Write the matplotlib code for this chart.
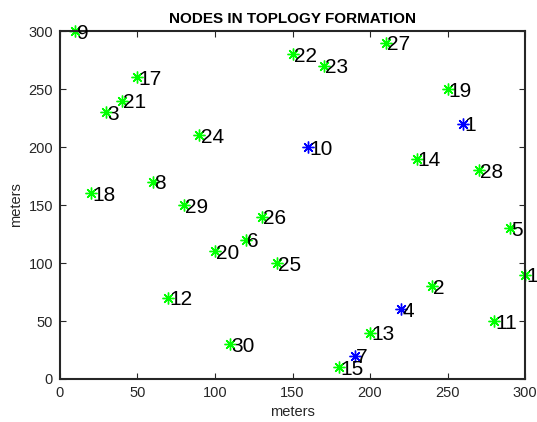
import matplotlib
matplotlib.use("Agg")
import matplotlib.pyplot as plt

plt.rcParams['font.family'] = ['Liberation Sans', 'DejaVu Sans']

node_ids = [1, 2, 3, 4, 5, 6, 7, 8, 9, 10, 11, 12, 13, 14, 15,
            16, 17, 18, 19, 20, 21, 22, 23, 24, 25, 26, 27, 28, 29, 30]
x_pos = [260, 240, 30, 220, 290, 120, 190, 60, 10, 160, 280, 70, 200, 230, 180,
         300, 50, 20, 250, 100, 40, 150, 170, 90, 140, 130, 210, 270, 80, 110]
y_pos = [220, 80, 230, 60, 130, 120, 20, 170, 300, 200, 50, 70, 40, 190, 10,
         90, 260, 160, 250, 110, 240, 280, 270, 210, 100, 140, 290, 180, 150, 30]
head_nodes = [1, 4, 7, 10]

fig = plt.figure(figsize=(5.37, 4.22), dpi=100)
ax = fig.add_axes([0.1117, 0.1019, 0.866, 0.8246])

for n, x, y in zip(node_ids, x_pos, y_pos):
    c = (0, 0, 1) if n in head_nodes else (0, 1, 0)
    ax.plot(x, y, marker=(8, 2, 0), color=c, markersize=8.5, linestyle='none', clip_on=False,
            markeredgewidth=1.0)
    ax.text(x + 0.8, y - 1.8, str(n), fontsize=15, ha='left', va='center', clip_on=False)

ax.set_xlim(0, 300)
ax.set_ylim(0, 300)
ax.set_xticks([0, 50, 100, 150, 200, 250, 300])
ax.set_yticks([0, 50, 100, 150, 200, 250, 300])
ax.tick_params(direction='in', top=True, right=True, labelsize=10.5, length=4, colors='#262626', pad=5)
for s in ax.spines.values():
    s.set_linewidth(1.5)
    s.set_color('#262626')
ax.set_title('NODES IN TOPLOGY FORMATION', fontsize=11, fontweight='bold', pad=6)
ax.set_xlabel('meters', fontsize=10.5, color='#262626')
ax.set_ylabel('meters', fontsize=10.5, color='#262626')

fig.savefig('out.png', dpi=100)
